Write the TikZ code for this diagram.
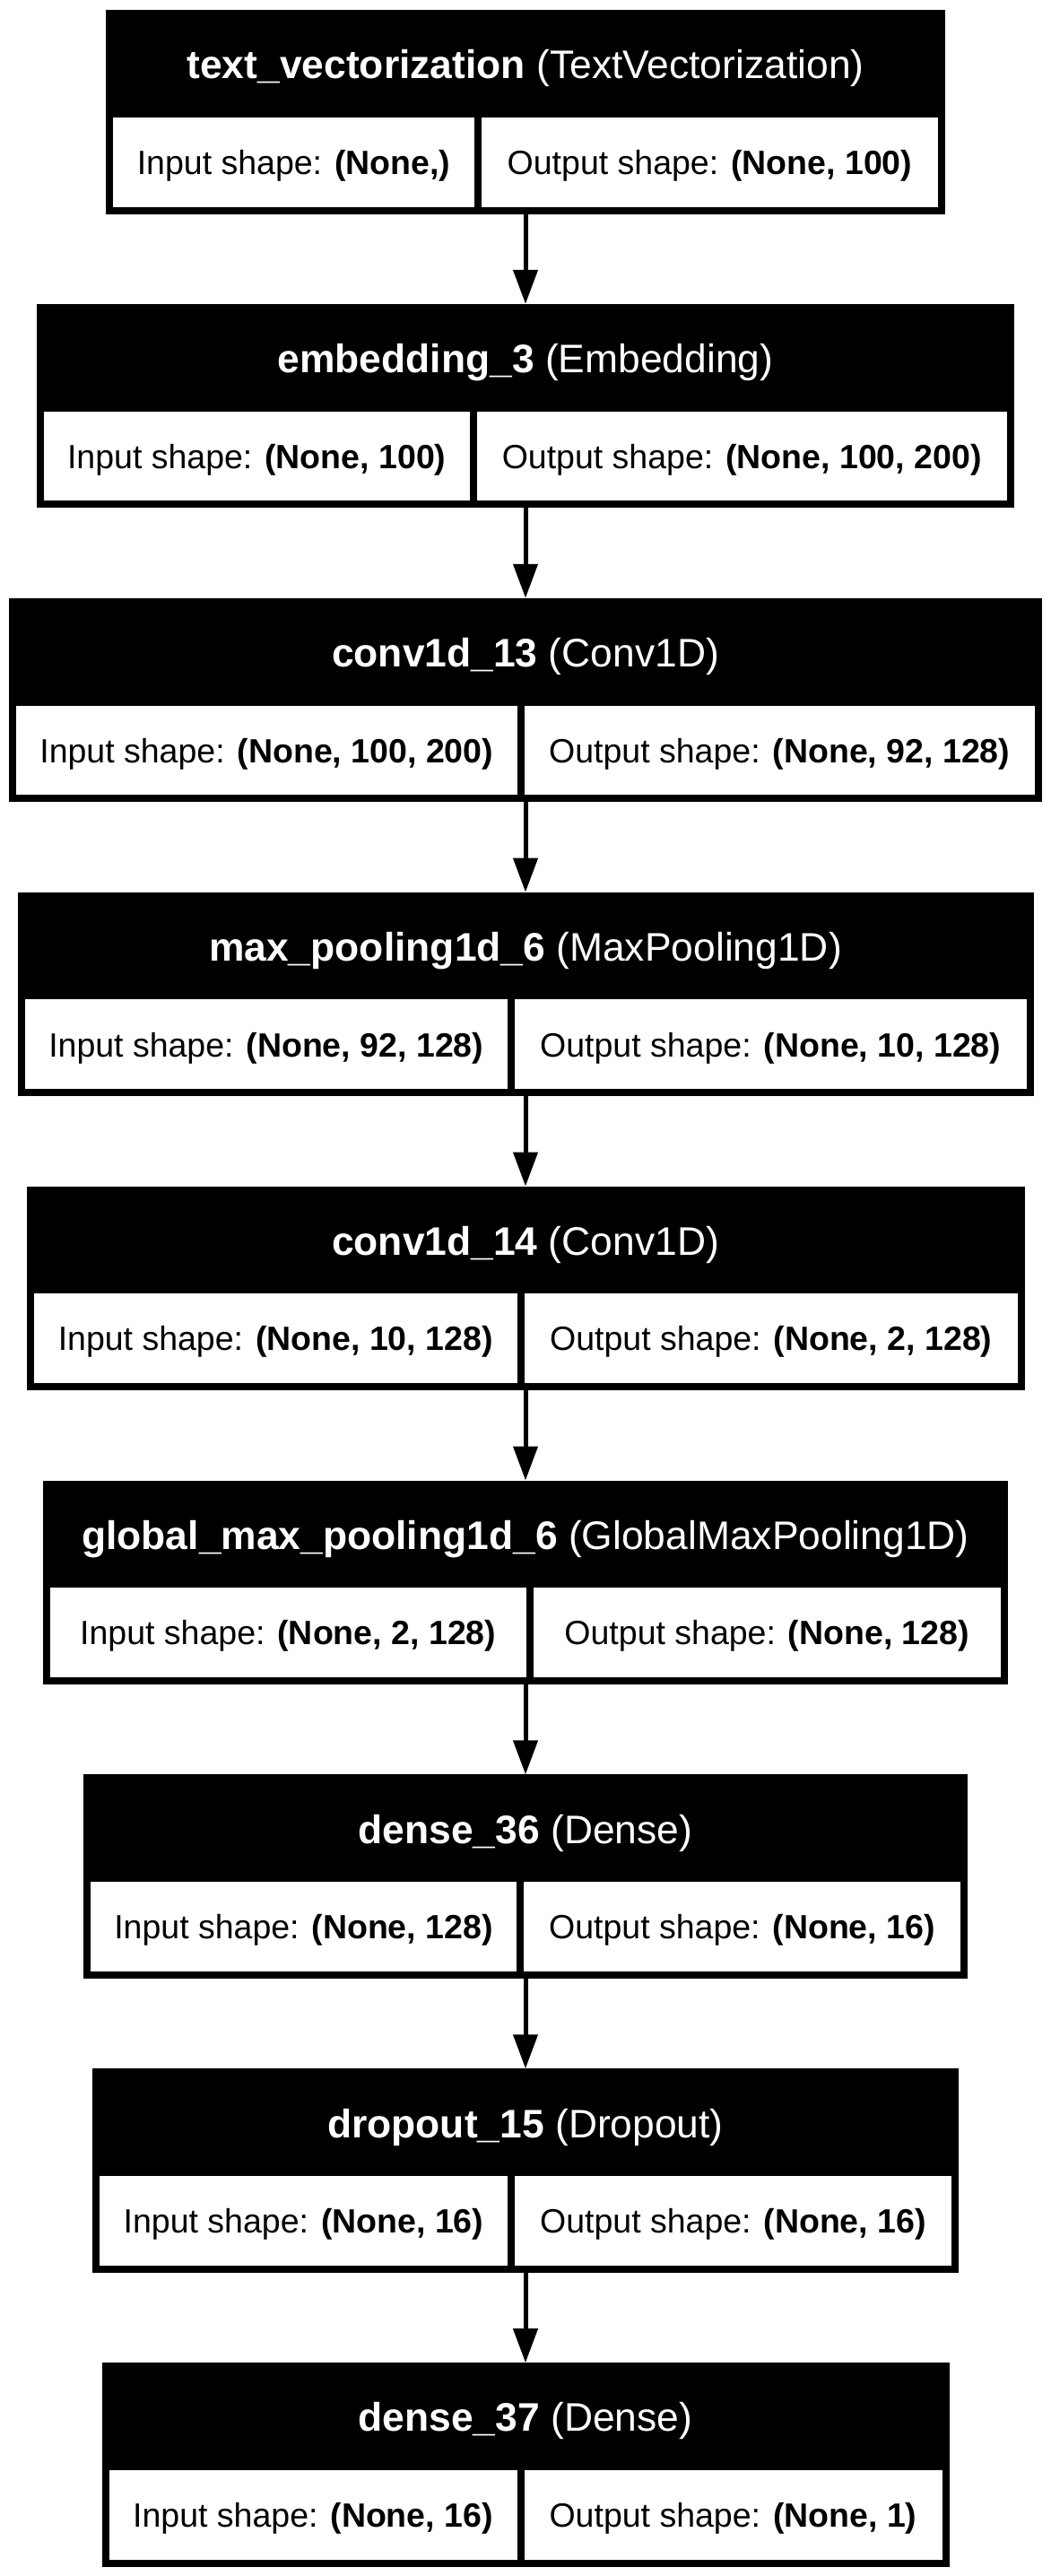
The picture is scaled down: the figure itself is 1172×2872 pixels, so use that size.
\documentclass[tikz,border=0pt]{standalone}
\usepackage{fontspec}
\setmainfont{Liberation Sans}
\usetikzlibrary{arrows.meta}
\newcommand\headfont{\fontsize{44.4}{52}\selectfont}
\newcommand\cellfont{\fontsize{37.5}{44}\selectfont}
\tikzset{
  layerbox/.style={fill=black, draw=none, inner sep=0pt, outer sep=0pt,
                   minimum height=227.5pt, anchor=north},
  cellfill/.style={fill=white},
  titletext/.style={text=white, font=\headfont, anchor=base, inner sep=0pt},
  celltext/.style={text=black, font=\cellfont, anchor=base, inner sep=0pt},
  flow/.style={line width=5pt, -{Triangle[width=26.7pt,length=38pt]}}
}
% #1 id, #2 top, #3 left, #4 right, #5 divider, #6 name, #7 class, #8 input, #9 output
\newcommand\mylayer[9]{%
  \node[layerbox, minimum width={#4-#3}] (#1) at ({(#3+#4)/2},#2) {};
  \fill[cellfill] (#3+8,#2+119.7) rectangle (#5-4,#2+219.5);
  \fill[cellfill] (#5+4,#2+119.7) rectangle (#4-8,#2+219.5);
  \node[titletext] (#1-title) at ({(#3+#4)/2},#2+76.7) {\textbf{#6} (#7)};
  \node[celltext] (#1-in) at ({(#3+8+#5-4)/2},#2+183.3) {Input shape: \textbf{#8}};
  \node[celltext] (#1-out) at ({(#5+4+#4-8)/2},#2+183.3) {Output shape: \textbf{#9}};
}
\begin{document}
\begin{tikzpicture}[x=1pt,y=-1pt]
\useasboundingbox[fill=white] (0,0) rectangle (1172,2872);
\mylayer{L1}{11}{118}{1054}{533}{text\_vectorization}{TextVectorization}{(None,)}{(None, 100)}
\mylayer{L2}{338.9}{41}{1131}{527.5}{embedding\_3}{Embedding}{(None, 100)}{(None, 100, 200)}
\mylayer{L3}{666.8}{10}{1162}{580.5}{conv1d\_13}{Conv1D}{(None, 100, 200)}{(None, 92, 128)}
\mylayer{L4}{994.7}{19.5}{1152.5}{570}{max\_pooling1d\_6}{MaxPooling1D}{(None, 92, 128)}{(None, 10, 128)}
\mylayer{L5}{1322.6}{29.5}{1142.5}{581}{conv1d\_14}{Conv1D}{(None, 10, 128)}{(None, 2, 128)}
\mylayer{L6}{1650.5}{48}{1124}{590.5}{global\_max\_pooling1d\_6}{GlobalMaxPooling1D}{(None, 2, 128)}{(None, 128)}
\mylayer{L7}{1978.4}{93}{1079}{580}{dense\_36}{Dense}{(None, 128)}{(None, 16)}
\mylayer{L8}{2306.3}{103}{1069}{570}{dropout\_15}{Dropout}{(None, 16)}{(None, 16)}
\mylayer{L9}{2634.2}{113.5}{1058.5}{580.5}{dense\_37}{Dense}{(None, 16)}{(None, 1)}
\draw[flow] (L1.south) -- (L2.north);
\draw[flow] (L2.south) -- (L3.north);
\draw[flow] (L3.south) -- (L4.north);
\draw[flow] (L4.south) -- (L5.north);
\draw[flow] (L5.south) -- (L6.north);
\draw[flow] (L6.south) -- (L7.north);
\draw[flow] (L7.south) -- (L8.north);
\draw[flow] (L8.south) -- (L9.north);
\end{tikzpicture}
\end{document}
